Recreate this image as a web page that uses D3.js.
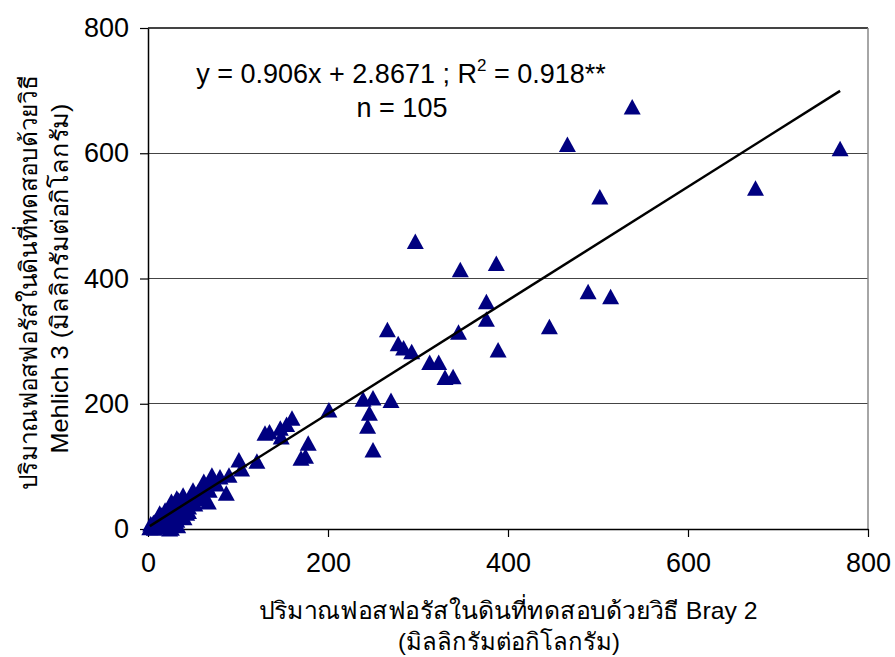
<!DOCTYPE html>
<html>
<head>
<meta charset="utf-8">
<script src="https://cdn.jsdelivr.net/npm/d3@7"></script>
<style>
  html, body { margin: 0; padding: 0; background: #fff; }
  svg { display: block; }
  text { font-family: "Liberation Sans", Arial, sans-serif; fill: #000; }
</style>
</head>
<body>
<svg id="chart" width="895" height="657"></svg>
<script>
// Phosphorus measured by Bray 2 (x) and Mehlich 3 (y), mg/kg
const bray2 = [
  538, 769, 466, 675, 502, 297, 387, 347, 489, 514,
  376, 376, 446, 266, 345, 278, 284, 293, 389, 313,
  323, 330, 339, 201, 239, 250, 246, 244, 250, 270,
  178, 170, 175, 160, 154, 147, 148, 130, 135, 121,
  101, 104, 90, 87, 80, 71, 73, 62, 65, 67,
  60, 50, 56, 50, 39, 39, 32, 34, 26, 28,
  43, 32, 24, 26, 28, 23, 19, 15, 13, 10,
  4, 2, 3, 5, 6, 7, 8, 9, 11, 12,
  14, 16, 17, 18, 20, 21, 22, 25, 27, 30,
  31, 33, 36, 37, 40, 42, 45, 47, 52, 55,
  58, 62, 45, 68, 76
];
const mehlich3 = [
  674, 607, 614, 544, 530, 459, 424, 414, 379, 371,
  363, 335, 323, 318, 314, 296, 289, 283, 286, 266,
  266, 242, 243, 190, 207, 209, 185, 164, 126, 205,
  137, 113, 116, 177, 167, 161, 147, 153, 155, 108,
  110, 96, 86, 57, 83, 86, 78, 76, 70, 43,
  67, 62, 60, 54, 54, 48, 49, 46, 44, 40,
  25, 14, 0, 1, 17, 32, 30, 22, 25, 14,
  6, 2, 8, 3, 10, 1, 12, 5, 18, 8,
  3, 16, 10, 24, 6, 20, 12, 26, 8, 34,
  22, 5, 38, 30, 18, 42, 35, 50, 40, 48,
  57, 52, 28, 62, 72
];
const slope = 0.906, intercept = 2.8671;
const xTicks = [0, 200, 400, 600, 800];
const yTicks = [0, 200, 400, 600, 800];
const eqText = "y = 0.906x + 2.8671 ; R";
const eqSup = "2";
const eqTail = " = 0.918**";
const nText = "n = 105";
const xTitle = ["ปริมาณฟอสฟอรัสในดินที่ทดสอบด้วยวิธี Bray 2", "(มิลลิกรัมต่อกิโลกรัม)"];
const yTitle = ["ปริมาณฟอสฟอรัสในดินที่ทดสอบด้วยวิธี", "Mehlich 3 (มิลลิกรัมต่อกิโลกรัม)"];

const points = bray2.map((x, i) => ({ x, y: mehlich3[i] }));

const svg = d3.select("#chart");
const plot = { left: 148, right: 868, top: 28, bottom: 529 };

const x = d3.scaleLinear().domain([0, 800]).range([plot.left, plot.right]);
const y = d3.scaleLinear().domain([0, 800]).range([plot.bottom, plot.top]);

// horizontal gridlines
svg.append("g")
  .selectAll("line")
  .data(yTicks.filter(t => t > 0))
  .join("line")
  .attr("x1", plot.left).attr("x2", plot.right)
  .attr("y1", d => y(d)).attr("y2", d => y(d))
  .attr("stroke", "#444").attr("stroke-width", 1.2)
  .attr("shape-rendering", "crispEdges");

// right border of plot area
svg.append("line")
  .attr("x1", plot.right).attr("x2", plot.right)
  .attr("y1", plot.top).attr("y2", plot.bottom)
  .attr("stroke", "#888").attr("stroke-width", 1.5);

// axes
const xAxis = d3.axisBottom(x).tickValues(xTicks).tickSizeInner(8).tickSizeOuter(0).tickPadding(16);
const yAxis = d3.axisLeft(y).tickValues(yTicks).tickSizeInner(8).tickSizeOuter(0).tickPadding(11);

const gx = svg.append("g").attr("transform", `translate(0,${plot.bottom})`).call(xAxis);
const gy = svg.append("g").attr("transform", `translate(${plot.left},0)`).call(yAxis);
[gx, gy].forEach(g => {
  g.select(".domain").attr("stroke", "#000").attr("stroke-width", 1.5);
  g.selectAll(".tick line").attr("stroke", "#000").attr("stroke-width", 1.2);
  g.selectAll(".tick text")
    .attr("font-family", "Liberation Sans, Arial, sans-serif")
    .attr("font-size", 27).attr("fill", "#000");
});

// triangle markers
const tri = "M0,-8L8.5,7.5L-8.5,7.5Z";
svg.append("g")
  .selectAll("path")
  .data(points)
  .join("path")
  .attr("d", tri)
  .attr("transform", d => `translate(${x(d.x)},${y(d.y)})`)
  .attr("fill", "#000080");

// regression line across the observed range of x
const xMin = d3.min(bray2), xMax = d3.max(bray2);
const line = d3.line().x(d => x(d)).y(d => y(slope * d + intercept));
svg.append("path")
  .datum([xMin, xMax])
  .attr("d", line)
  .attr("fill", "none")
  .attr("stroke", "#000")
  .attr("stroke-width", 2.5);

// equation label
const eq = svg.append("text")
  .attr("x", 401).attr("y", 83)
  .attr("text-anchor", "middle")
  .attr("font-size", 27);
eq.append("tspan").text(eqText);
eq.append("tspan").attr("font-size", 17).attr("dy", -12).text(eqSup);
eq.append("tspan").attr("dy", 12).text(eqTail);

svg.append("text")
  .attr("x", 402).attr("y", 117)
  .attr("text-anchor", "middle")
  .attr("font-size", 27)
  .text(nText);

// axis titles (Thai lines set to a fixed run length)
const midX = (plot.left + plot.right) / 2;
svg.append("text").attr("x", midX).attr("y", 619)
  .attr("text-anchor", "middle").attr("font-size", 24)
  .attr("textLength", 499).attr("lengthAdjust", "spacingAndGlyphs")
  .text(xTitle[0]);
svg.append("text").attr("x", midX + 1).attr("y", 650)
  .attr("text-anchor", "middle").attr("font-size", 24)
  .attr("textLength", 222).attr("lengthAdjust", "spacingAndGlyphs")
  .text(xTitle[1]);

const midY = (plot.top + plot.bottom) / 2 + 4;
svg.append("text")
  .attr("transform", `translate(37,${midY}) rotate(-90)`)
  .attr("text-anchor", "middle").attr("font-size", 24)
  .attr("textLength", 415).attr("lengthAdjust", "spacingAndGlyphs")
  .text(yTitle[0]);
svg.append("text")
  .attr("transform", `translate(68,${midY - 4}) rotate(-90)`)
  .attr("text-anchor", "middle").attr("font-size", 24)
  .attr("textLength", 350).attr("lengthAdjust", "spacingAndGlyphs")
  .text(yTitle[1]);
</script>
</body>
</html>
